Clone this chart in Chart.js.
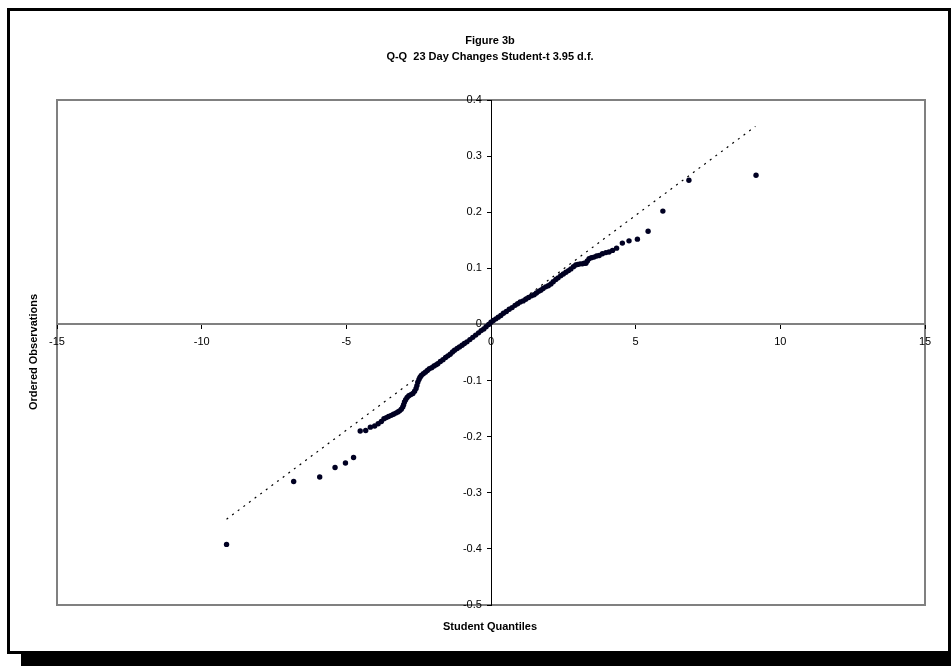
<!DOCTYPE html>
<html>
<head>
<meta charset="utf-8">
<script src="https://cdn.jsdelivr.net/npm/chart.js@4.4.1/dist/chart.umd.min.js"></script>
<style>
  html, body { margin: 0; padding: 0; background: #fff; overflow: hidden; }
  #frame {
    position: absolute; left: 7px; top: 8px;
    width: 938px; height: 640px;
    border: 3px solid #000;
    box-shadow: 14px 12px 0 #000;
    background: #fff;
  }
  #qq { position: absolute; left: 0; top: 0; }
</style>
</head>
<body>
<div id="frame"></div>
<canvas id="qq" width="951" height="666"></canvas>
<script>
// Student-t quantiles (x) and ordered 23-day changes (y)
var studentQuantiles = [
  -9.14, -6.82, -5.92, -5.39, -5.03, -4.75, -4.52, -4.33, -4.17, -4.02, -3.90, -3.79,
  -3.70, -3.62, -3.54, -3.45, -3.37, -3.29, -3.22, -3.16, -3.10, -3.05,
  -3.02, -2.99, -2.95, -2.90, -2.84, -2.77, -2.70, -2.64, -2.59, -2.56,
  -2.53, -2.49, -2.45, -2.41, -2.34, -2.27, -2.20, -2.13, -2.05, -1.97,
  -1.90, -1.84, -1.75, -1.66, -1.57, -1.49, -1.41, -1.33, -1.26, -1.17,
  -1.09, -1.00, -0.92, -0.83, -0.73, -0.63, -0.53, -0.43, -0.34, -0.25,
  -0.17, -0.08, 0.00, 0.08, 0.17, 0.25, 0.34, 0.43, 0.53, 0.63,
  0.73, 0.83, 0.92, 1.01, 1.11, 1.20, 1.30, 1.40, 1.49, 1.57,
  1.65, 1.72, 1.80, 1.89, 1.98, 2.07, 2.15, 2.24, 2.32, 2.41,
  2.50, 2.59, 2.68, 2.76, 2.85, 2.93, 3.00, 3.08, 3.16, 3.22,
  3.28, 3.33, 3.39, 3.47, 3.56, 3.65, 3.74,
  3.85, 3.97, 4.08, 4.20, 4.34, 4.54, 4.77, 5.06, 5.43, 5.94, 6.84, 9.16
];
var orderedObs = [
  -0.392, -0.280, -0.272, -0.255, -0.247, -0.237, -0.190, -0.189, -0.183, -0.181, -0.177, -0.173,
  -0.168, -0.166, -0.164, -0.162, -0.160, -0.158, -0.156, -0.154, -0.151, -0.147,
  -0.143, -0.138, -0.134, -0.130, -0.127, -0.125, -0.123, -0.119, -0.114, -0.109,
  -0.103, -0.098, -0.094, -0.091, -0.088, -0.085, -0.082, -0.079, -0.077, -0.074,
  -0.072, -0.070, -0.066, -0.063, -0.059, -0.056, -0.053, -0.049, -0.046, -0.043,
  -0.040, -0.037, -0.034, -0.031, -0.027, -0.023, -0.019, -0.015, -0.011, -0.008,
  -0.004, 0.000, 0.004, 0.007, 0.010, 0.013, 0.016, 0.020, 0.023, 0.027,
  0.030, 0.034, 0.037, 0.040, 0.042, 0.045, 0.048, 0.051, 0.053, 0.056,
  0.059, 0.061, 0.064, 0.067, 0.069, 0.072, 0.076, 0.080, 0.083, 0.087,
  0.090, 0.093, 0.096, 0.099, 0.103, 0.106, 0.107, 0.108, 0.108, 0.109,
  0.109, 0.113, 0.117, 0.119, 0.120, 0.122, 0.123,
  0.126, 0.128, 0.129, 0.132, 0.136, 0.145, 0.149, 0.152, 0.166, 0.202, 0.257, 0.266
];

// reference line (dotted)
var fitLineX = [-9.14, 9.14];
var fitLineY = [-0.347, 0.353];

var xTicks = [-15, -10, -5, 0, 5, 10, 15];
var yTicks = [-0.5, -0.4, -0.3, -0.2, -0.1, 0, 0.1, 0.2, 0.3, 0.4];

var titleLines = ['Figure 3b', 'Q-Q  23 Day Changes Student-t 3.95 d.f.'];
var xTitle = 'Student Quantiles';
var yTitle = 'Ordered Observations';

var FONT = "'Liberation Sans', Arial, sans-serif";
Chart.defaults.font.family = FONT;
Chart.defaults.font.size = 11;
Chart.defaults.color = '#000';

// grey box round the plot area plus the titles
var framePlugin = {
  id: 'frameText',
  beforeDraw: function (chart) {
    var a = chart.chartArea, ctx = chart.ctx;
    ctx.save();
    ctx.strokeStyle = '#808080';
    ctx.lineWidth = 2;
    ctx.strokeRect(a.left, a.top, a.right - a.left, a.bottom - a.top);
    ctx.restore();
  },
  afterDraw: function (chart) {
    var ctx = chart.ctx;
    ctx.save();
    ctx.fillStyle = '#000';
    ctx.font = 'bold 11px ' + FONT;
    ctx.textAlign = 'center';
    ctx.textBaseline = 'middle';
    ctx.fillText(titleLines[0], 490, 41);
    ctx.fillText(titleLines[1], 490, 57);
    ctx.fillText(xTitle, 490, 627);
    ctx.translate(34, 352);
    ctx.rotate(-Math.PI / 2);
    ctx.fillText(yTitle, 0, 0);
    ctx.restore();
  }
};

var points = studentQuantiles.map(function (q, i) { return { x: q, y: orderedObs[i] }; });
var fitLine = fitLineX.map(function (q, i) { return { x: q, y: fitLineY[i] }; });

var config = {
  type: 'scatter',
  data: {
    datasets: [
      {
        label: 'Observations',
        data: points,
        backgroundColor: '#000022',
        borderColor: '#000022',
        pointRadius: 2.7,
        pointBorderWidth: 0,
        order: 1
      },
      {
        label: 'Fit',
        data: fitLine,
        showLine: true,
        borderColor: '#000',
        borderWidth: 1.2,
        borderDash: [2, 5],
        pointRadius: 0,
        order: 2
      }
    ]
  },
  options: {
    responsive: false,
    animation: false,
    devicePixelRatio: 1,
    layout: { padding: { left: 57, right: 26, top: 100, bottom: 61 } },
    plugins: { legend: { display: false }, tooltip: { enabled: false }, title: { display: false } },
    scales: {
      x: {
        type: 'linear',
        min: -15, max: 15,
        position: { y: 0 },
        afterFit: function (s) { s.height = 0; },
        afterBuildTicks: function (s) { s.ticks = xTicks.map(function (v) { return { value: v }; }); },
        grid: { display: true, drawOnChartArea: false, drawTicks: true, tickLength: 4, color: '#000' },
        border: { display: true, color: '#808080', width: 2 },
        ticks: { padding: 7, maxRotation: 0, autoSkip: false, callback: function (v) { return String(v); } }
      },
      y: {
        type: 'linear',
        min: -0.5, max: 0.4,
        position: { x: 0 },
        afterFit: function (s) { s.width = 0; },
        afterBuildTicks: function (s) { s.ticks = yTicks.map(function (v) { return { value: v }; }); },
        grid: { display: true, drawOnChartArea: false, drawTicks: true, tickLength: 4, color: '#000' },
        border: { display: true, color: '#000', width: 1 },
        // labels sit left of the centred axis; trailing spaces keep them clear of the tick marks
        ticks: { autoSkip: false, callback: function (v) { return String(Math.round(v * 10) / 10) + '   '; } }
      }
    }
  },
  plugins: [framePlugin]
};

var qqChart = new Chart(document.getElementById('qq'), config);
</script>
</body>
</html>
